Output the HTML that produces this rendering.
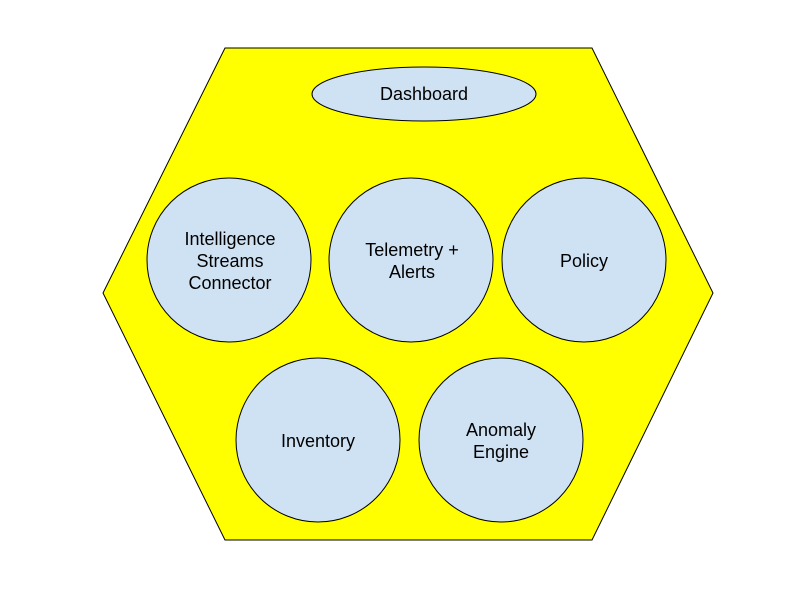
<!DOCTYPE html>
<html><head><meta charset="utf-8"><style>html,body{margin:0;padding:0;background:#fff}svg{display:block}text{font-family:"Liberation Sans",Arial,sans-serif;font-size:18px;fill:#000;text-anchor:middle}</style></head>
<body>
<svg width="800" height="600" viewBox="0 0 800 600" xmlns="http://www.w3.org/2000/svg">
<polygon points="225,48 592,48 713,293 592,540 225,540 103,293" fill="#ffff00" stroke="#000" stroke-width="1"/>
<ellipse cx="424" cy="94" rx="112" ry="27" fill="#cfe2f3" stroke="#000"/>
<text x="424" y="100">Dashboard</text>
<circle cx="229" cy="260" r="82" fill="#cfe2f3" stroke="#000"/>
<text x="230" y="245">Intelligence</text>
<text x="230" y="267">Streams</text>
<text x="230" y="289">Connector</text>
<circle cx="411" cy="260" r="82" fill="#cfe2f3" stroke="#000"/>
<text x="412" y="256">Telemetry +</text>
<text x="412" y="278">Alerts</text>
<circle cx="584" cy="260" r="82" fill="#cfe2f3" stroke="#000"/>
<text x="584" y="267">Policy</text>
<circle cx="318" cy="440" r="82" fill="#cfe2f3" stroke="#000"/>
<text x="318" y="447">Inventory</text>
<circle cx="501" cy="440" r="82" fill="#cfe2f3" stroke="#000"/>
<text x="501" y="436">Anomaly</text>
<text x="501" y="458">Engine</text>
</svg>
</body></html>
